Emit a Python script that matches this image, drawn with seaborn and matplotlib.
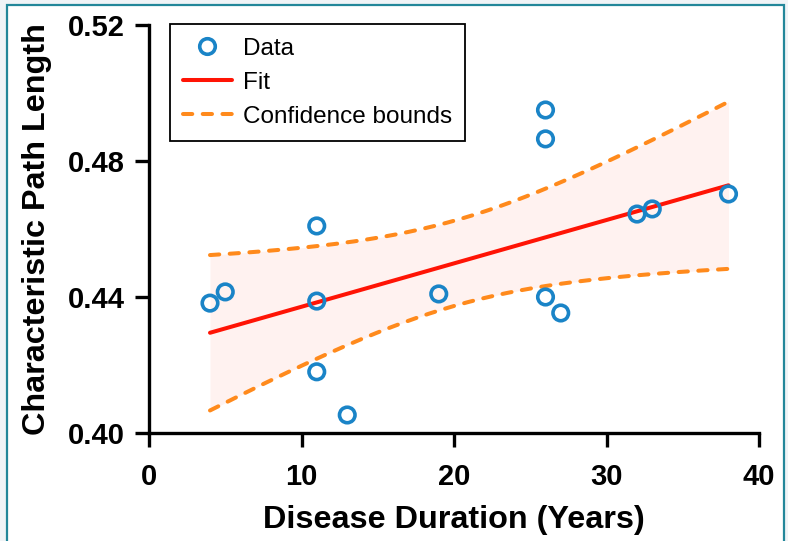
import numpy as np
import pandas as pd
import seaborn as sns
import matplotlib
matplotlib.use("Agg")
import matplotlib.pyplot as plt
from matplotlib.patches import Rectangle
from matplotlib.lines import Line2D

# Observations: disease duration vs. characteristic path length
duration_years = [4, 5, 11, 11, 11, 13, 19, 26, 26, 26, 27, 32, 33, 38]
path_length = [0.4382, 0.4415, 0.4609, 0.4388, 0.4180, 0.4053, 0.4409,
               0.4950, 0.4865, 0.4400, 0.4353, 0.4644, 0.4659, 0.4703]

x_ticks = [0, 10, 20, 30, 40]
y_ticks = [0.40, 0.44, 0.48, 0.52]
y_tick_labels = ["0.40", "0.44", "0.48", "0.52"]
legend_labels = ["Data", "Fit", "Confidence bounds"]

T_CRIT_95 = 2.1788  # two-sided 95% Student t quantile, 12 degrees of freedom

BLUE = "#1a84c7"
RED = "#ff1405"
ORANGE = "#ff8a1c"
BAND = "#fff2f0"
FRAME = "#23879a"

sns.set_style("ticks")
plt.rcParams["font.family"] = ["Liberation Sans", "DejaVu Sans"]
plt.rcParams.update({
    "text.color": "black",
    "axes.labelcolor": "black",
    "xtick.color": "black",
    "ytick.color": "black",
})

df = pd.DataFrame({"duration": duration_years, "cpl": path_length})

# Linear least-squares fit with 95% confidence band on the mean response
x = np.asarray(duration_years, dtype=float)
y = np.asarray(path_length, dtype=float)
n = len(x)
slope, intercept = np.polyfit(x, y, 1)
resid = y - (slope * x + intercept)
s = np.sqrt(np.sum(resid ** 2) / (n - 2))
sxx = np.sum((x - x.mean()) ** 2)
grid = np.linspace(x.min(), x.max(), 200)
fit = slope * grid + intercept
half = T_CRIT_95 * s * np.sqrt(1.0 / n + (grid - x.mean()) ** 2 / sxx)
lower, upper = fit - half, fit + half

fig = plt.figure(figsize=(7.88, 5.41), dpi=100, facecolor="#f0f4f7")
panel = Rectangle((7 / 788, -0.02), 777 / 788, 1.02 - 5 / 541,
                  transform=fig.transFigure, facecolor="white",
                  edgecolor=FRAME, linewidth=1.6, zorder=-10)
fig.patches.append(panel)

ax = fig.add_axes([149 / 788, 108 / 541, 610 / 788, 408 / 541])
ax.set_facecolor("none")
ax.set_zorder(1)

LW = 2.9
ax.fill_between(grid, lower, upper, color=BAND, linewidth=0, zorder=1)
dash = (0, (2.3, 2.6))
sns.lineplot(x=grid, y=upper, ax=ax, color=ORANGE, linewidth=LW,
             linestyle=dash, dash_capstyle="round", zorder=2)
sns.lineplot(x=grid, y=lower, ax=ax, color=ORANGE, linewidth=LW,
             linestyle=dash, dash_capstyle="round", zorder=2)
sns.lineplot(x=grid, y=fit, ax=ax, color=RED, linewidth=LW, zorder=3)
sns.scatterplot(data=df, x="duration", y="cpl", ax=ax, s=125,
                facecolor="none", edgecolor=BLUE, linewidth=2.6, zorder=4)

ax.set_xlim(0, 40)
ax.set_ylim(0.40, 0.52)
ax.set_xticks(x_ticks)
ax.set_xticklabels([str(t) for t in x_ticks])
ax.set_yticks(y_ticks)
ax.set_yticklabels(y_tick_labels)
sns.despine(ax=ax)
for side in ("left", "bottom"):
    ax.spines[side].set_linewidth(2.4)
    ax.spines[side].set_color("black")
ax.tick_params(direction="out", length=10, width=2.4, color="black",
               labelcolor="black", labelsize=21)
ax.tick_params(axis="x", pad=11.5)
ax.tick_params(axis="y", pad=7.5)
for lab in ax.get_xticklabels() + ax.get_yticklabels():
    lab.set_fontweight("bold")

ax.set_xlabel("Disease Duration (Years)", fontsize=23.3, fontweight="bold",
              color="black")
ax.set_ylabel("Characteristic Path Length", fontsize=23.3, fontweight="bold",
              color="black")
ax.xaxis.set_label_coords(0.5, -0.176)
ax.yaxis.set_label_coords(-0.159, 0.5)

handles = [
    Line2D([], [], linestyle="none", marker="o", markersize=11.2,
           markerfacecolor="none", markeredgecolor=BLUE, markeredgewidth=2.6),
    Line2D([], [], color=RED, linewidth=LW),
    Line2D([], [], color=ORANGE, linewidth=LW, linestyle=dash,
           dash_capstyle="round"),
]
leg = ax.legend(handles, legend_labels, loc="upper left",
                bbox_to_anchor=(0.034, 1.002), fontsize=17.5, frameon=True,
                fancybox=False, edgecolor="black", framealpha=1,
                handlelength=2.0, handletextpad=0.45, labelspacing=0.5,
                borderpad=0.55, borderaxespad=0.0)
leg.get_frame().set_linewidth(1.3)
for txt in leg.get_texts():
    txt.set_color("black")

fig.savefig("out.png", dpi=100, facecolor=fig.get_facecolor())
